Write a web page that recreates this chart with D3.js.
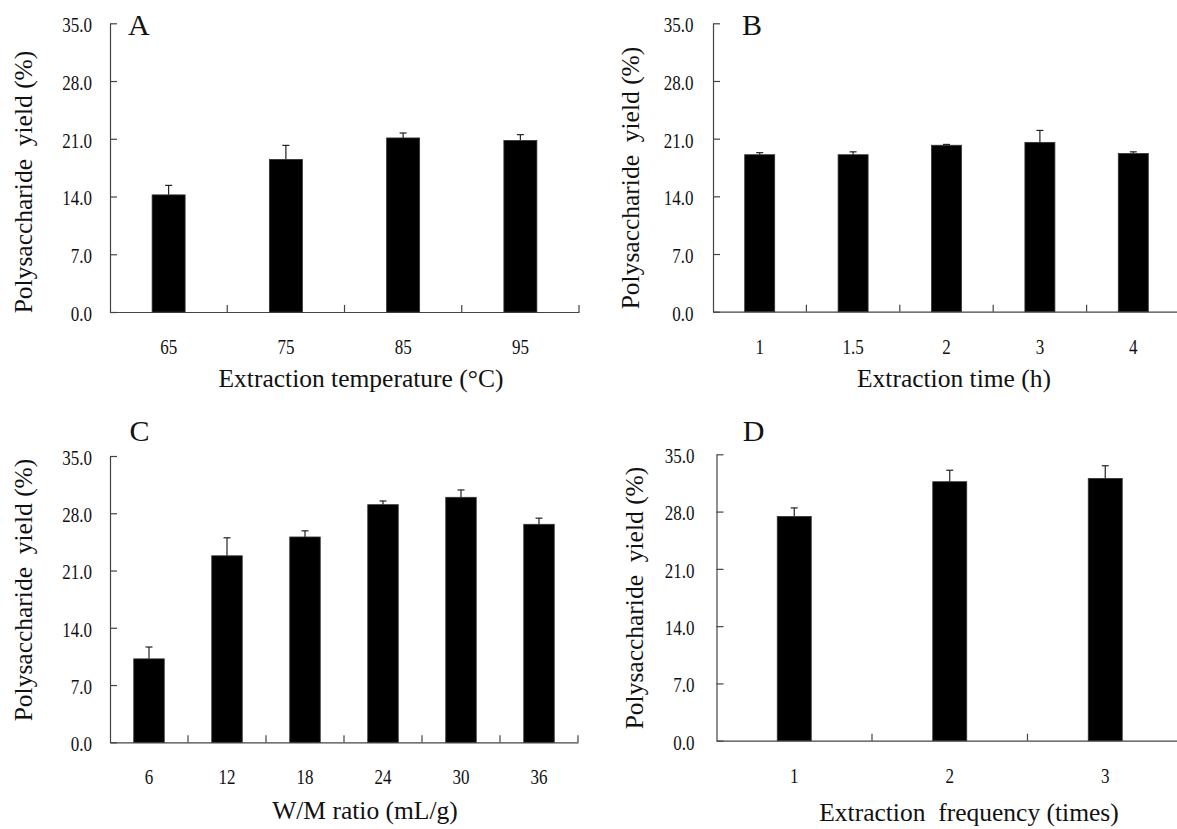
<!DOCTYPE html>
<html>
<head>
<meta charset="utf-8">
<title>Polysaccharide yield</title>
<script src="https://cdn.jsdelivr.net/npm/d3@7"></script>
<style>
  body { margin: 0; background: #fff; }
  svg text { font-family: "Liberation Serif", "Times New Roman", serif; fill: #111; }
  .ttl { white-space: pre; }
</style>
</head>
<body>
<svg id="fig" width="1177" height="829"></svg>
<script>
// data
var yTicks = [0, 7, 14, 21, 28, 35];

var tempCats = ["65", "75", "85", "95"];
var tempYield = [14.2, 18.5, 21.1, 20.8];
var tempErr = [1.15, 1.7, 0.6, 0.7];

var timeCats = ["1", "1.5", "2", "3", "4"];
var timeYield = [19.05, 19.05, 20.2, 20.55, 19.2];
var timeErr = [0.25, 0.35, 0.1, 1.45, 0.2];

var ratioCats = ["6", "12", "18", "24", "30", "36"];
var ratioYield = [10.2, 22.8, 25.1, 29.05, 29.95, 26.65];
var ratioErr = [1.45, 2.2, 0.75, 0.45, 0.9, 0.75];

var freqCats = ["1", "2", "3"];
var freqYield = [27.4, 31.65, 32.05];
var freqErr = [1.05, 1.4, 1.55];

var yTitle = "Polysaccharide  yield (%)";

// panel layout (pixels)
var panels = [
  {tag: "A", cats: tempCats, vals: tempYield, errs: tempErr, xTitle: "Extraction temperature (°C)",
   left: 110, right: 579, top: 23.3, zero: 312, barW: 33, lblGap: 18, tagX: 128, tagY: 35,
   xTitleX: 361, xTitleY: 387, yTitleX: 32, yTitleY: 182},
  {tag: "B", cats: timeCats, vals: timeYield, errs: timeErr, xTitle: "Extraction time (h)",
   left: 713, right: 1180, top: 23.3, zero: 311.7, barW: 30, lblGap: 19.5, tagX: 742, tagY: 35,
   xTitleX: 954, xTitleY: 387, yTitleX: 639, yTitleY: 178},
  {tag: "C", cats: ratioCats, vals: ratioYield, errs: ratioErr, xTitle: "W/M ratio (mL/g)",
   left: 110, right: 578, top: 456, zero: 742.3, barW: 30.5, lblGap: 18, tagX: 129.5, tagY: 441,
   xTitleX: 365, xTitleY: 819, yTitleX: 32, yTitleY: 590},
  {tag: "D", cats: freqCats, vals: freqYield, errs: freqErr, xTitle: "Extraction  frequency (times)",
   left: 716.5, right: 1183, top: 454.3, zero: 740.7, barW: 34, lblGap: 22, tagX: 742.7, tagY: 441,
   xTitleX: 969, xTitleY: 821, yTitleX: 643, yTitleY: 598}
];

var svg = d3.select("#fig");
var axisCol = "#444";
var serif = "'Liberation Serif', 'Times New Roman', serif";
var squeeze = 0.85;   // tick labels in the source look condensed

panels.forEach(function(p) {
  var g = svg.append("g");

  var x = d3.scaleBand().domain(p.cats).range([p.left, p.right]).padding(0);
  var y = d3.scaleLinear().domain([0, 35]).range([p.zero, p.top]);

  // y axis, ticks point inwards
  var ya = g.append("g")
    .attr("transform", "translate(" + p.left + ",0)")
    .call(d3.axisLeft(y).tickValues(yTicks).tickFormat(d3.format(".1f")).tickSize(-7).tickSizeOuter(0));
  ya.selectAll("text")
    .attr("x", -p.lblGap / squeeze)
    .attr("dy", "0.42em")
    .attr("transform", "scale(" + squeeze + ",1)")
    .style("font-size", "20px");

  // x axis: labels under each bar, ticks between categories pointing up
  var xa = g.append("g")
    .attr("transform", "translate(0," + p.zero + ")")
    .call(d3.axisBottom(x).tickSize(0).tickSizeOuter(0));
  xa.selectAll("text")
    .attr("y", 42)
    .attr("dy", 0)
    .attr("transform", "scale(" + squeeze + ",1)")
    .style("font-size", "20px");

  g.selectAll(".sep")
    .data(p.cats)
    .join("line")
    .attr("class", "sep")
    .attr("x1", function(d) { return x(d) + x.step(); })
    .attr("x2", function(d) { return x(d) + x.step(); })
    .attr("y1", p.zero)
    .attr("y2", p.zero - 7)
    .attr("stroke", axisCol)
    .attr("stroke-width", 1.2);

  g.selectAll(".domain, .tick line").attr("stroke", axisCol).attr("stroke-width", 1.2);
  g.selectAll(".tick text").attr("fill", "#111").style("font-family", serif);

  var rows = p.cats.map(function(c, i) { return {c: c, v: p.vals[i], e: p.errs[i]}; });

  // error bars (upper only)
  g.selectAll(".eb")
    .data(rows)
    .join("line")
    .attr("class", "eb")
    .attr("x1", function(d) { return x(d.c) + x.bandwidth() / 2; })
    .attr("x2", function(d) { return x(d.c) + x.bandwidth() / 2; })
    .attr("y1", function(d) { return y(d.v); })
    .attr("y2", function(d) { return y(d.v + d.e); })
    .attr("stroke", "#222")
    .attr("stroke-width", 1.2);
  g.selectAll(".cap")
    .data(rows)
    .join("line")
    .attr("class", "cap")
    .attr("x1", function(d) { return x(d.c) + x.bandwidth() / 2 - 3.5; })
    .attr("x2", function(d) { return x(d.c) + x.bandwidth() / 2 + 3.5; })
    .attr("y1", function(d) { return y(d.v + d.e); })
    .attr("y2", function(d) { return y(d.v + d.e); })
    .attr("stroke", "#222")
    .attr("stroke-width", 1.2);

  g.selectAll(".bar")
    .data(rows)
    .join("rect")
    .attr("class", "bar")
    .attr("x", function(d) { return x(d.c) + (x.bandwidth() - p.barW) / 2; })
    .attr("y", function(d) { return y(d.v); })
    .attr("width", p.barW)
    .attr("height", function(d) { return y(0) - y(d.v); })
    .attr("fill", "#000")
    .attr("stroke", "#333")
    .attr("stroke-width", 0.8);

  // titles
  g.append("text")
    .attr("class", "ttl")
    .attr("x", p.xTitleX)
    .attr("y", p.xTitleY)
    .attr("text-anchor", "middle")
    .style("font-family", serif)
    .style("font-size", "25.5px")
    .text(p.xTitle);

  g.append("text")
    .attr("class", "ttl")
    .attr("transform", "translate(" + p.yTitleX + "," + p.yTitleY + ") rotate(-90)")
    .attr("text-anchor", "middle")
    .style("font-family", serif)
    .style("font-size", "25.5px")
    .text(yTitle);

  g.append("text")
    .attr("x", p.tagX)
    .attr("y", p.tagY)
    .style("font-family", serif)
    .style("font-size", "30px")
    .text(p.tag);
});
</script>
</body>
</html>
